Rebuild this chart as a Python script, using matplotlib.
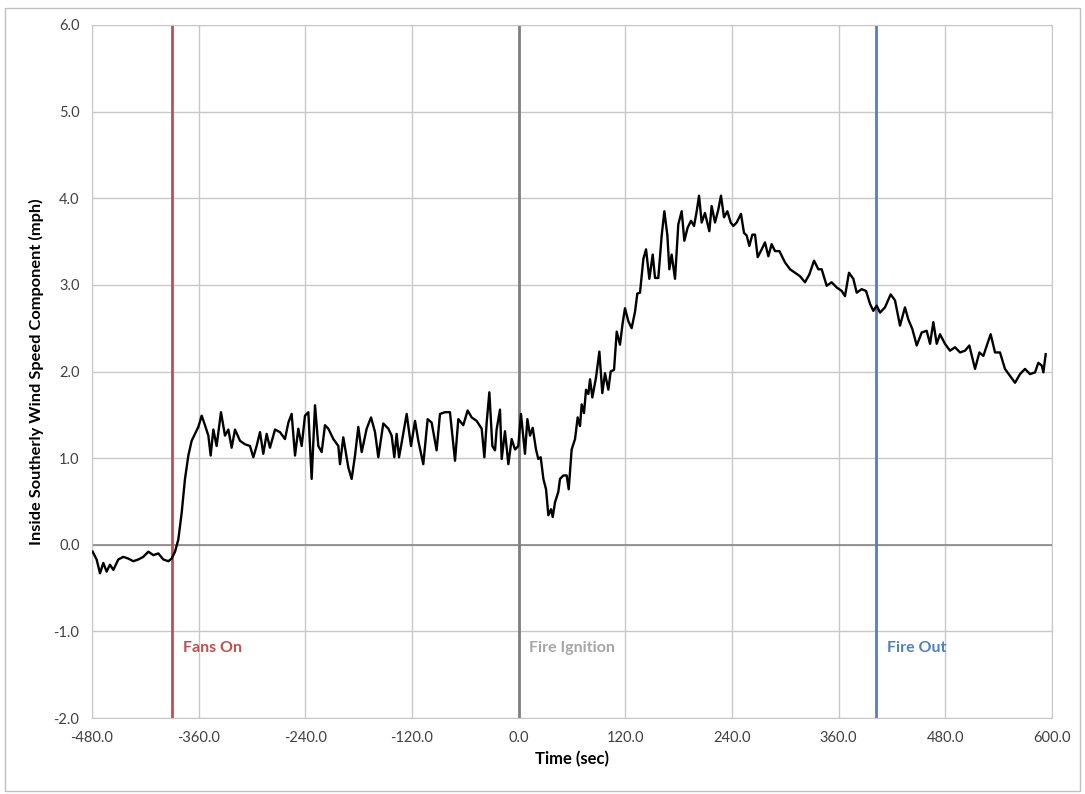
import numpy as np
import matplotlib
matplotlib.use("Agg")
import matplotlib.pyplot as plt
from matplotlib.patches import Rectangle

# wind speed trace (time in sec, speed in mph)
time_s = [
    -479.3, -474.8, -471.0, -467.3, -463.5, -459.8, -456.0, -450.4, -444.8, -439.1,
    -433.5, -427.9, -422.3, -416.6, -411.0, -405.4, -399.8, -394.1, -390.4, -386.6,
    -382.9, -379.1, -375.4, -371.6, -367.9, -364.1, -360.4, -356.6, -352.9, -349.1,
    -346.5, -343.5, -339.8, -334.9, -330.4, -326.6, -322.9, -319.1, -313.5, -307.9,
    -302.3, -298.5, -294.8, -291.0, -287.3, -283.5, -279.8, -274.1, -268.5,
    -262.9, -259.1, -255.4, -251.6, -247.9, -244.1, -240.4, -236.6, -232.9, -229.1,
    -225.4, -221.6, -217.9, -214.1, -208.5, -202.9, -201.0, -197.3, -191.6, -187.9,
    -184.1, -180.4, -176.6, -171.0, -166.1, -161.6, -157.9, -152.3, -146.6, -142.9,
    -139.9, -137.3, -134.6, -131.6, -126.0, -121.1, -116.6, -112.9, -107.3, -102.4,
    -97.9, -92.3, -88.5, -82.9, -77.3, -71.6, -67.9, -62.3, -57.4, -52.9,
    -47.3, -41.6, -38.6, -36.0, -33.0, -29.6, -26.6,
    -24.8, -21.0, -19.1, -15.4, -11.6, -7.9, -4.1, -0.4, 2.6, 7.1,
    9.8, 12.8, 15.8, 19.5, 22.1, 24.8, 27.8, 30.8, 33.4, 36.4,
    38.3, 40.9, 44.6, 46.5, 50.3, 54.0, 56.3, 59.6, 63.4, 66.4,
    69.0, 70.9, 73.5, 75.8, 78.4, 80.3, 82.9, 87.0, 90.8, 94.1,
    97.1, 100.9, 103.5, 107.3, 110.3, 114.0, 117.0, 119.6, 123.4, 127.1,
    130.9, 133.5, 136.5, 140.3, 143.3, 147.0, 150.8, 153.4, 157.1, 160.9,
    163.9, 167.3, 169.5, 172.1, 175.9, 179.6, 183.4, 186.4, 190.1, 193.9,
    197.3, 200.3, 202.9, 205.9, 209.6, 214.5, 217.1, 220.9, 224.6, 227.6,
    231.0, 234.8, 238.5, 241.5, 245.3, 250.1, 253.5, 256.5, 259.5, 262.9,
    265.9, 268.9, 273.4, 277.1, 280.9, 284.6, 288.4, 293.3,
    299.6, 305.3, 310.9, 316.5, 322.1, 327.0, 332.3, 337.1, 340.9, 346.5,
    352.1, 357.8, 363.4, 367.1, 371.6, 376.5, 380.3, 385.9, 390.8, 395.3,
    399.0, 402.8, 406.5, 412.1, 418.5, 423.4, 429.0, 434.6, 438.4, 442.9,
    447.8, 453.4, 459.0, 462.8, 466.5, 470.3, 474.0, 479.6, 485.3, 490.9,
    496.5, 502.1, 507.0, 513.4, 518.3, 522.8, 527.3, 531.0, 535.9, 541.5,
    547.1, 552.8, 558.4, 564.0, 569.6, 575.3, 580.9, 584.6, 588.4, 590.3,
    592.9,
]
speed_mph = [
    -0.08, -0.17, -0.33, -0.21, -0.31, -0.23, -0.29, -0.17, -0.14, -0.16,
    -0.19, -0.17, -0.14, -0.08, -0.12, -0.10, -0.17, -0.19, -0.16, -0.08,
    0.06, 0.37, 0.76, 1.03, 1.20, 1.28, 1.36, 1.49, 1.38, 1.26,
    1.03, 1.33, 1.14, 1.53, 1.26, 1.33, 1.12, 1.33, 1.20, 1.16,
    1.14, 1.01, 1.14, 1.30, 1.05, 1.28, 1.12, 1.33, 1.30,
    1.22, 1.41, 1.51, 1.03, 1.34, 1.14, 1.49, 1.53, 0.76, 1.61,
    1.14, 1.07, 1.38, 1.34, 1.22, 1.14, 0.93, 1.24, 0.89, 0.76,
    1.03, 1.36, 1.07, 1.34, 1.47, 1.30, 1.01, 1.40, 1.34, 1.26,
    1.01, 1.28, 1.01, 1.18, 1.51, 1.14, 1.43, 1.20, 0.93, 1.45,
    1.41, 1.09, 1.51, 1.53, 1.53, 0.97, 1.45, 1.38, 1.55, 1.47,
    1.43, 1.34, 1.01, 1.41, 1.76, 1.14, 1.09,
    1.33, 1.56, 0.99, 1.31, 0.93, 1.22, 1.10, 1.14, 1.51, 1.05,
    1.45, 1.26, 1.35, 1.10, 0.99, 1.01, 0.76, 0.64, 0.34, 0.41,
    0.32, 0.49, 0.61, 0.76, 0.80, 0.80, 0.64, 1.10, 1.22, 1.47,
    1.37, 1.62, 1.52, 1.79, 1.74, 1.91, 1.70, 1.93, 2.23, 1.75,
    1.98, 1.79, 2.00, 2.02, 2.46, 2.31, 2.56, 2.73, 2.58, 2.50,
    2.69, 2.90, 2.91, 3.30, 3.41, 3.07, 3.35, 3.08, 3.08, 3.57,
    3.85, 3.57, 3.18, 3.35, 3.07, 3.70, 3.85, 3.51, 3.66, 3.74,
    3.68, 3.85, 4.03, 3.72, 3.83, 3.62, 3.91, 3.72, 3.87, 4.03,
    3.78, 3.85, 3.72, 3.68, 3.72, 3.82, 3.60, 3.57, 3.45, 3.58,
    3.58, 3.32, 3.41, 3.49, 3.33, 3.47, 3.39, 3.39,
    3.26, 3.18, 3.14, 3.10, 3.03, 3.12, 3.28, 3.18, 3.18, 2.99,
    3.03, 2.97, 2.93, 2.87, 3.14, 3.07, 2.91, 2.95, 2.93, 2.78,
    2.70, 2.76, 2.68, 2.74, 2.89, 2.82, 2.53, 2.74, 2.60, 2.49,
    2.30, 2.45, 2.47, 2.32, 2.57, 2.32, 2.43, 2.32, 2.24, 2.28,
    2.22, 2.24, 2.30, 2.03, 2.22, 2.18, 2.32, 2.43, 2.22, 2.22,
    2.03, 1.95, 1.87, 1.97, 2.03, 1.97, 1.99, 2.10, 2.07, 1.99,
    2.20,
]

# event markers
event_names = ["Fans On", "Fire Ignition", "Fire Out"]
event_times = [-390, 0, 402]
event_colors = ["#c0504d", "#7f7f7f", "#4f81bd"]
event_text_colors = ["#c0504d", "#a6a6a6", "#4f81bd"]

x_ticks = [-480, -360, -240, -120, 0, 120, 240, 360, 480, 600]
y_ticks = [-2, -1, 0, 1, 2, 3, 4, 5, 6]

plt.rcParams['font.family'] = ['Lato', 'DejaVu Sans']

fig = plt.figure(figsize=(10.85, 7.94), dpi=100)
ax = fig.add_axes([92 / 1085, 1 - 718 / 794, 960 / 1085, 693 / 794])

# outer chart border
fig.patches.append(Rectangle((5 / 1085, 3 / 794), 1075 / 1085, 783 / 794,
                             transform=fig.transFigure, fill=False,
                             edgecolor="#bfbfbf", linewidth=1))

ax.set_xlim(-480, 600)
ax.set_ylim(-2, 6)
ax.set_xticks(x_ticks)
ax.set_yticks(y_ticks)
ax.set_xticklabels([f"{v:.1f}" for v in x_ticks])
ax.set_yticklabels([f"{v:.1f}" for v in y_ticks])
ax.tick_params(length=0, labelsize=10.5, colors="#404040", pad=9)
ax.grid(True, color="#c8c8c8", linewidth=1)
ax.set_axisbelow(True)
for s in ax.spines.values():
    s.set_color("#c8c8c8")

# zero line
ax.axhline(0, color="#868686", linewidth=1.2, zorder=1)

for name, t, c, tc in zip(event_names, event_times, event_colors, event_text_colors):
    ax.axvline(t, color=c, linewidth=2, zorder=2)
    ax.text(t + 12, -1.19, name, color=tc, fontsize=11.5, fontweight="bold",
            va="center", ha="left")

ax.plot(time_s, speed_mph, color="black", linewidth=1.7, zorder=3)

ax.set_xlabel("Time (sec)", fontsize=12, fontweight="bold", color="#000000", labelpad=5)
ax.set_ylabel("Inside Southerly Wind Speed Component (mph)", fontsize=11.8,
              fontweight="bold", color="#000000", labelpad=7)

fig.savefig("out.png", dpi=100)
